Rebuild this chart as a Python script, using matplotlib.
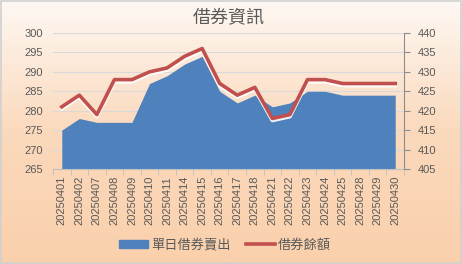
import numpy as np
import matplotlib.pyplot as plt
import matplotlib.patheffects as pe
from matplotlib.colors import LinearSegmentedColormap
from matplotlib.patches import Patch, Rectangle
from matplotlib.lines import Line2D

plt.rcParams["font.family"] = ["Liberation Sans", "Noto Sans CJK TC", "DejaVu Sans"]

dates = ["20250401", "20250402", "20250407", "20250408", "20250409", "20250410",
         "20250411", "20250414", "20250415", "20250416", "20250417", "20250418",
         "20250421", "20250422", "20250423", "20250424", "20250425", "20250428",
         "20250429", "20250430"]
daily_short_sell = [275, 278, 277, 277, 277, 287, 289, 292, 294, 285,
                    282, 284, 281, 282, 285, 285, 284, 284, 284, 284]
balance = [421, 424, 419, 428, 428, 430, 431, 434, 436, 427,
           424, 426, 418, 419, 428, 428, 427, 427, 427, 427]

GRAY = "#595959"
cjk = ["Noto Sans CJK TC", "DejaVu Sans"]

fig = plt.figure(figsize=(4.62, 2.64), dpi=100)

# gradient background
bg = fig.add_axes([0, 0, 1, 1], zorder=-10)
cmap = LinearSegmentedColormap.from_list("bg", ["#FEF8F3", "#FBD9BC", "#FAD0AC"])
bg.imshow(np.linspace(0, 1, 256).reshape(-1, 1), aspect="auto", cmap=cmap,
          extent=[0, 1, 0, 1], origin="upper")
bg.add_patch(Rectangle((0.003, 0.005), 0.994, 0.99, fill=False, ec="#D0D0D0", lw=1.2,
                       transform=bg.transAxes))
bg.set_axis_off()

W, H = 462, 264
x0, x1, ytop, ybot = 53, 404, 33, 169
ax = fig.add_axes([x0 / W, 1 - ybot / H, (x1 - x0) / W, (ybot - ytop) / H])
ax.patch.set_alpha(0)
x = np.arange(len(dates))
ax.fill_between(x, 265, daily_short_sell, color="#4F81BD", lw=0, zorder=2)
ax.set_xlim(-0.5, len(dates) - 0.5)
ax.set_ylim(265, 300)
ax.set_yticks(range(265, 301, 5))
ax.grid(axis="y", color="#D9D9D9", lw=0.8, zorder=0)
ax.set_axisbelow(True)
for s in ["top", "left", "right"]:
    ax.spines[s].set_visible(False)
ax.spines["bottom"].set_color("#BFBFBF")
ax.tick_params(axis="y", length=0, labelsize=8, labelcolor=GRAY, pad=7)
ax.set_xticks(x)
ax.set_xticklabels(dates, rotation=90, fontsize=8, color=GRAY)
ax.set_xticks(np.arange(-0.5, len(dates)), minor=True)
ax.tick_params(axis="x", which="major", length=0, pad=5)
ax.tick_params(axis="x", which="minor", length=4, color="#BFBFBF")

ax2 = ax.twinx()
ax2.plot(x, balance, color="#C0504D", lw=2.6, zorder=5,
         path_effects=[pe.SimpleLineShadow(offset=(0, -1.5), shadow_color="white", alpha=0.9),
                       pe.Normal()])
ax2.set_ylim(405, 440)
ax2.set_yticks(range(405, 441, 5))
for s in ["top", "left", "bottom"]:
    ax2.spines[s].set_visible(False)
ax2.spines["right"].set_color("#8C8C8C")
ax2.tick_params(axis="y", length=4, color="#8C8C8C", labelsize=8, labelcolor=GRAY, pad=6)

fig.text(229 / W, 1 - 18 / H, "借券資訊", ha="center", va="center", fontsize=13,
         color=GRAY, family=cjk)

handles = [Patch(color="#4F81BD"), Line2D([0], [0], color="#C0504D", lw=2.6)]
fig.legend(handles, ["單日借券賣出", "借券餘額"], loc="center", ncol=2,
           bbox_to_anchor=(225 / W, 1 - 245 / H), frameon=False,
           prop={"family": cjk, "size": 9.5}, labelcolor=GRAY,
           handlelength=2.2, handleheight=0.6, handletextpad=0.2, columnspacing=1.2)

fig.savefig("out.png", dpi=100)
